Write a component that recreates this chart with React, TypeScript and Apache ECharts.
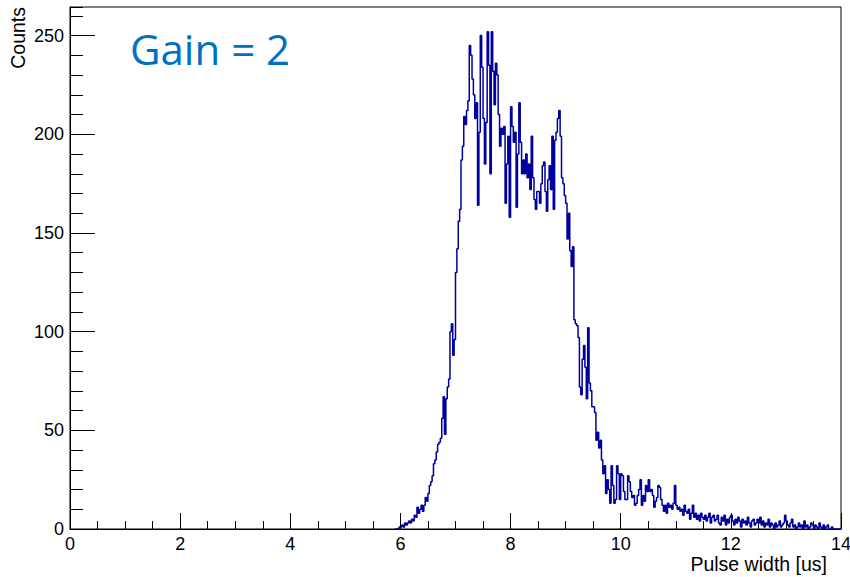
import React, { useEffect, useRef } from "react";
import * as echarts from "echarts";

// Histogram binning (x in microseconds)
const binWidth = 0.025;
const firstBinStart = 5.9;
const xMin = 0;
const xMax = 14;
const xInterval = 2;
const yMin = 0;
const yMax = 264.5;
const yMajorInterval = 50;
const yMinorInterval = 10;

const xTitle = "Pulse width [us]";
const yTitle = "Counts";
const annotation = "Gain = 2";

// Counts per bin, starting at firstBinStart, 20 bins per 0.5 us
const counts = [
  // 5.900 – 5.975
  0, 0, 0, 1,
  // 6.0
  1, 2, 1, 3, 2, 3, 4, 3, 5, 4, 7, 6, 11, 8, 10, 12, 9, 12, 16, 14,
  // 6.5
  18, 22, 24, 27, 33, 35, 39, 43, 44, 46, 56, 67, 48, 66, 72, 76, 100, 104, 88, 96,
  // 7.0
  130, 142, 156, 162, 187, 194, 209, 205, 212, 217, 245, 240, 228, 220, 208, 216, 164, 201, 250, 234,
  // 7.5
  208, 185, 206, 252, 235, 180, 252, 232, 215, 236, 230, 210, 194, 203, 200, 204, 165, 185, 199, 158,
  // 8.0
  214, 204, 196, 201, 163, 190, 216, 196, 180, 187, 180, 190, 178, 185, 172, 199, 178, 167, 162, 171,
  // 8.5
  171, 165, 175, 184, 186, 171, 161, 177, 184, 172, 199, 162, 197, 201, 208, 212, 199, 178, 175, 169,
  // 9.0
  165, 147, 160, 141, 133, 143, 106, 104, 103, 97, 72, 68, 86, 93, 82, 66, 102, 74, 70, 62,
  // 9.5
  62, 59, 45, 49, 41, 45, 35, 28, 32, 18, 25, 20, 13, 32, 22, 13, 15, 32, 28, 15,
  // 10.0
  28, 27, 19, 15, 15, 27, 24, 19, 16, 17, 12, 13, 17, 20, 25, 12, 17, 14, 22, 19,
  // 10.5
  25, 19, 20, 17, 11, 14, 16, 22, 21, 15, 12, 9, 12, 8, 13, 11, 12, 10, 13, 22,
  // 11.0
  12, 10, 11, 9, 10, 7, 12, 9, 8, 10, 5, 8, 12, 6, 8, 5, 7, 4, 8, 6,
  // 11.5
  5, 7, 4, 6, 8, 3, 6, 7, 4, 5, 7, 3, 2, 6, 4, 7, 2, 5, 3, 6,
  // 12.0
  7, 4, 2, 5, 3, 6, 4, 1, 5, 3, 4, 2, 6, 3, 1, 4, 5, 2, 3, 5,
  // 12.5
  3, 6, 2, 4, 1, 3, 2, 5, 1, 3, 2, 0, 3, 1, 2, 4, 1, 2, 3, 7,
  // 13.0
  4, 2, 1, 3, 5, 1, 2, 0, 1, 3, 1, 2, 0, 4, 1, 2, 0, 1, 3, 2,
  // 13.5
  0, 2, 1, 0, 3, 1, 0, 2, 0, 1, 2, 0, 0, 1, 0, 0, 0, 0, 0, 0,
];

const FONT = "'Liberation Sans', Arial, Helvetica, sans-serif";
const LINE_COLOR = "#00009c";

export default function App() {
  const ref = useRef<HTMLDivElement>(null);

  useEffect(() => {
    if (!ref.current) return;
    const chart = echarts.init(ref.current, null, { renderer: "svg" });

    const points: number[][] = [];
    counts.forEach((c, i) => points.push([firstBinStart + i * binWidth, c]));
    points.push([firstBinStart + counts.length * binWidth, 0]);

    const gridRect = { left: 70, top: 7, right: 9, bottom: 48 };

    chart.setOption({
      animation: false,
      backgroundColor: "#ffffff",
      grid: [
        {
          ...gridRect,
          show: true,
          borderColor: "#000",
          borderWidth: 1,
          backgroundColor: "transparent",
          containLabel: false,
          outerBoundsMode: "none",
        },
        {
          ...gridRect,
          show: false,
          containLabel: false,
          outerBoundsMode: "none",
        },
      ],
      xAxis: [
        {
          type: "value",
          gridIndex: 0,
          min: xMin,
          max: xMax,
          interval: xInterval,
          axisLine: { show: true, onZero: false, lineStyle: { color: "#000", width: 1.2 } },
          axisTick: { show: true, inside: true, length: 16, lineStyle: { color: "#000", width: 1 } },
          minorTick: { show: true, splitNumber: 4, length: 8, lineStyle: { color: "#000", width: 1 } },
          splitLine: { show: false },
          axisLabel: { color: "#000", fontFamily: FONT, fontSize: 18, margin: 6 },
        },
        {
          type: "value",
          gridIndex: 1,
          min: xMin,
          max: xMax,
          show: false,
        },
      ],
      yAxis: [
        {
          type: "value",
          gridIndex: 0,
          min: yMin,
          max: yMax,
          interval: yMajorInterval,
          axisLine: { show: true, onZero: false, lineStyle: { color: "#000", width: 1 } },
          axisTick: { show: true, inside: true, length: 25, lineStyle: { color: "#000", width: 1 } },
          splitLine: { show: false },
          axisLabel: {
            color: "#000",
            fontFamily: FONT,
            fontSize: 18,
            margin: 6,
            showMaxLabel: false,
          },
        },
        {
          type: "value",
          gridIndex: 1,
          min: yMin,
          max: yMax,
          interval: yMinorInterval,
          axisLine: { show: false },
          axisTick: { show: true, inside: true, length: 13, lineStyle: { color: "#000", width: 1 } },
          splitLine: { show: false },
          axisLabel: { show: false },
        },
      ],
      series: [
        {
          type: "line",
          xAxisIndex: 0,
          yAxisIndex: 0,
          data: points,
          step: "end",
          symbol: "none",
          showSymbol: false,
          clip: true,
          lineStyle: { color: LINE_COLOR, width: 1.5 },
          emphasis: { disabled: true },
        },
      ],
      graphic: [
        {
          type: "text",
          x: 17.5,
          y: 7,
          rotation: Math.PI / 2,
          style: {
            text: yTitle,
            fill: "#000",
            font: `19.5px ${FONT}`,
            align: "right",
            verticalAlign: "middle",
            textAlign: "right",
            textVerticalAlign: "middle",
          },
        },
        {
          type: "text",
          x: 827,
          y: 564,
          style: {
            text: xTitle,
            fill: "#000",
            font: `19.5px ${FONT}`,
            align: "right",
            verticalAlign: "middle",
            textAlign: "right",
            textVerticalAlign: "middle",
          },
        },
        {
          type: "text",
          x: 130,
          y: 48,
          style: {
            text: annotation,
            fill: "#0070c0",
            font: `42px 'Open Sans', 'Noto Sans', sans-serif`,
            align: "left",
            verticalAlign: "middle",
            textAlign: "left",
            textVerticalAlign: "middle",
          },
        },
      ],
    });

    return () => chart.dispose();
  }, []);

  return (
    <div
      ref={ref}
      style={{ position: "absolute", left: 0, top: 0, width: 850, height: 577 }}
    />
  );
}
